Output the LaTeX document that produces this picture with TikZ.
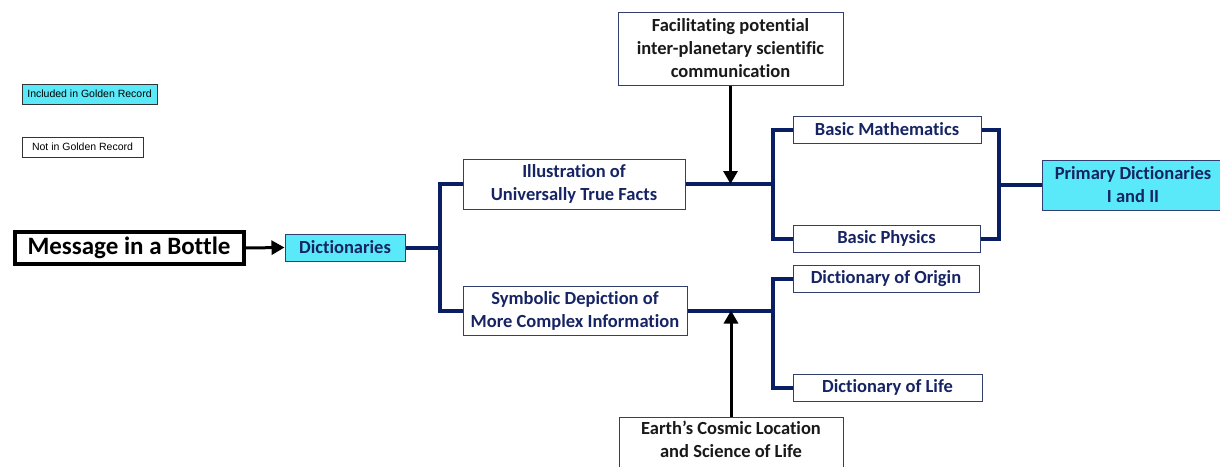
\documentclass[tikz,border=0pt]{standalone}
\usepackage{fontspec}
\setmainfont{Carlito}[Ligatures=NoCommon]
\newfontfamily\arialfont{Liberation Sans}
\usetikzlibrary{arrows.meta}
\definecolor{cyanfill}{RGB}{90,233,248}
\definecolor{navytext}{RGB}{22,36,100}
\definecolor{navyline}{RGB}{10,30,100}
\definecolor{boxborder}{RGB}{50,62,110}
\begin{document}
\begin{tikzpicture}[x=1pt,y=-1pt,
  box/.style={draw=boxborder, line width=1pt, fill=white, inner sep=0pt, align=center,
    font=\fontsize{18.5}{23}\selectfont\bfseries, text=navytext},
  darkbox/.style={box, text=black!90},
  legendbox/.style={draw=black!80, line width=0.8pt, inner sep=0pt, align=center,
    font=\arialfont\fontsize{10.5}{12}\selectfont, text=black},
  blueline/.style={draw=navyline, line width=4pt},
  blackarrow/.style={draw=black, line width=3pt, -{Triangle[length=13pt,width=14pt]}}
]
\clip (0,0) rectangle (1220,466);
\useasboundingbox (0,0) rectangle (1220,466);
\fill[white] (0,0) rectangle (1220,466);

% legend
\node[legendbox, fill=cyanfill, minimum width=135, minimum height=20] (leg1) at (89.5,94) {Included in Golden Record};
\node[legendbox, fill=white, minimum width=121, minimum height=20] (leg2) at (82.5,147) {Not in Golden Record};

% nodes
\node[draw=black, line width=4pt, fill=white, inner sep=0pt, minimum width=229, minimum height=32,
  font=\fontsize{25}{28}\selectfont\bfseries] (msg) at (129,248) {Message in a Bottle};
\node[box, fill=cyanfill, minimum width=120, minimum height=27] (dict) at (345,247.5) {Dictionaries};
\node[box, minimum width=222, minimum height=50] (illus) at (574,184) {Illustration of\\Universally True Facts};
\node[box, minimum width=224, minimum height=49] (symb) at (575,310.5) {Symbolic Depiction of\\More Complex Information};
\node[darkbox, minimum width=225, minimum height=73] (fac) at (730.5,48.5) {Facilitating potential\\inter-planetary scientific\\communication};
\node[darkbox, anchor=north, minimum width=224, inner ysep=4pt, text depth=20pt] (earth) at (731,417) {Earth’s Cosmic Location\\and Science of Life};
\node[box, minimum width=188, minimum height=27] (bm) at (887,129.5) {Basic Mathematics};
\node[box, minimum width=187, minimum height=27] (bp) at (886.5,238.5) {Basic Physics};
\node[box, minimum width=186, minimum height=27] (orig) at (886,278.5) {Dictionary of Origin};
\node[box, minimum width=189, minimum height=27] (life) at (887.5,387.5) {Dictionary of Life};
\node[box, fill=cyanfill, minimum width=182, minimum height=50] (prim) at (1133,185) {Primary Dictionaries\\I and II};

% junction coordinates
\coordinate (jd) at (440,247.5);
\coordinate (ji) at (773,184);
\coordinate (js) at (773,310.5);
\coordinate (jp) at (999,185);
\coordinate (ai) at (730.5,184);
\coordinate (as) at (731,310.5);

% connectors
\draw[blackarrow] (msg.east) -- (dict.west);
\draw[blueline] (dict.east) -- (jd);
\draw[blueline] (jd) |- (illus.west);
\draw[blueline] (jd) |- (symb.west);
\draw[blueline] (illus.east) -- (ji);
\draw[blueline] (ji) |- (bm.west);
\draw[blueline] (ji) |- (bp.west);
\draw[blueline] (bm.east) -| (jp);
\draw[blueline] (bp.east) -| (jp);
\draw[blueline] (jp) -- (prim.west);
\draw[blueline] (symb.east) -- (js);
\draw[blueline] (js) |- (orig.west);
\draw[blueline] (js) |- (life.west);
\draw[blackarrow] (fac.south) -- (ai);
\draw[blackarrow] (earth.north) -- (as);
\end{tikzpicture}
\end{document}
